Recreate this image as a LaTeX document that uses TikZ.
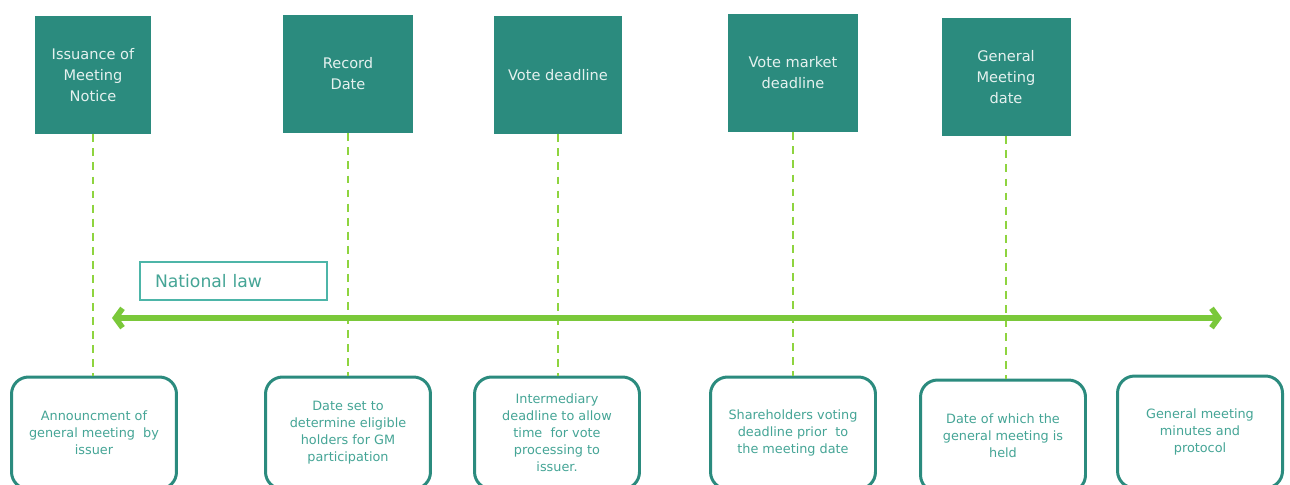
\documentclass[tikz,border=0pt]{standalone}
\usepackage{fontspec}
\setmainfont{DejaVu Sans}
\usepackage{xcolor}
\usepackage{tikz}
\usetikzlibrary{arrows.meta, positioning}
\definecolor{gmteal}{HTML}{2B8B7E}
\definecolor{gmtext}{HTML}{45A596}
\definecolor{lawteal}{HTML}{4DB5A8}
\definecolor{lawgreen}{HTML}{7AC83A}
\definecolor{dashgreen}{HTML}{8ED43F}

\begin{document}
\begin{tikzpicture}[x=0.02cm, y=-0.02cm,
    stage/.style={rectangle, fill=gmteal, minimum width=2.6cm, minimum height=2.36cm,
        align=center, text=white!88!gmteal, font=\fontsize{8.3}{12}\selectfont},
    note/.style={draw=gmteal, line width=1.7pt, rounded corners=0.34cm, fill=white,
        minimum width=3.3cm, minimum height=2.24cm, align=center, text=gmtext,
        font=\fontsize{7.3}{9.7}\selectfont},
    link/.style={draw=dashgreen, line width=1.2pt, dash pattern=on 4.5pt off 3.5pt}]
    \useasboundingbox (0,0) rectangle (1290,484);

    % milestones on top
    \node[stage, minimum width=2.32cm] (issue) at (93,75) {Issuance of\\Meeting\\Notice};
    \node[stage] (record) at (348,74) {Record\\Date};
    \node[stage, minimum width=2.56cm] (vote) at (558,75) {Vote deadline};
    \node[stage] (market) at (793,73) {Vote market\\deadline};
    \node[stage, minimum width=2.58cm] (gmdate) at (1006,77) {General\\Meeting\\date};

    % descriptions below
    \node[note] (announce) at (94,433) {Announcment of\\general meeting \ by\\issuer};
    \node[note] (eligible) at (348,433) {Date set to\\determine eligible\\holders for GM\\participation};
    \node[note] (interm) at (557,433) {Intermediary\\deadline to allow\\time \ for vote\\processing to\\issuer.};
    \node[note] (voting) at (793,433) {Shareholders voting\\deadline prior \ to\\the meeting date};
    \node[note] (held) at (1003,436) {Date of which the\\general meeting is\\held};
    \node[note] (minutes) at (1200,432) {General meeting\\minutes and\\protocol};

    \draw[link] (issue.south) -- (issue.south |- announce.north);
    \draw[link] (record.south) -- (record.south |- eligible.north);
    \draw[link] (vote.south) -- (vote.south |- interm.north);
    \draw[link] (market.south) -- (market.south |- voting.north);
    \draw[link] (gmdate.south) -- (gmdate.south |- held.north);

    % national law span
    \node[draw=lawteal, line width=1pt, fill=white, minimum width=3.74cm, minimum height=0.76cm,
        inner xsep=0.3cm, text width=3.14cm, align=left, text=gmtext,
        font=\fontsize{9.8}{11}\selectfont] (law) at (233.5,281) {National law};
    \coordinate (lawstart) at (112,318);
    \coordinate (lawend) at (1222,318);
    \draw[lawgreen, line width=3.2pt, {Straight Barb[length=4pt, width=11pt]}-{Straight Barb[length=4pt, width=11pt]}]
        (lawstart) -- (lawend);
\end{tikzpicture}
\end{document}
